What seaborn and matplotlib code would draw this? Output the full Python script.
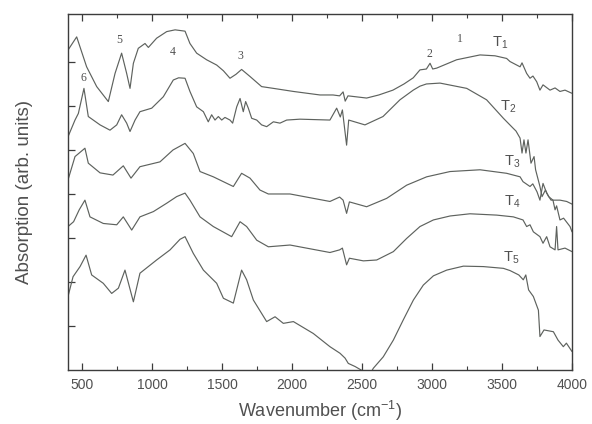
import numpy as np
import pandas as pd
import matplotlib
matplotlib.use("Agg")
import matplotlib.pyplot as plt
import seaborn as sns
from matplotlib.ticker import MultipleLocator, NullFormatter

# ---- data (wavenumber in cm^-1, absorption in arb. units) ----
wn_t1 = [400, 462, 533, 605, 688, 736, 783, 819, 843, 867, 902, 950, 974, 1033, 1105, 1165,
         1236, 1271, 1319, 1390, 1462, 1510, 1557, 1600, 1640, 1700, 1783, 1867, 2010, 2200,
         2293, 2340, 2365, 2380, 2400, 2533, 2620, 2721, 2800, 2866, 2914, 2960, 2986, 3005,
         3033, 3176, 3343, 3450, 3533, 3557, 3629, 3643, 3676, 3700, 3721, 3748, 3771, 3793,
         3843, 3879, 3914, 3950, 3998]
abs_t1 = [7.27, 7.57, 6.89, 6.44, 6.10, 6.74, 7.20, 6.74, 6.40, 6.97, 7.31, 7.42, 7.33, 7.54,
          7.69, 7.73, 7.70, 7.42, 7.20, 7.05, 6.93, 6.80, 6.63, 6.72, 6.83, 6.67, 6.44, 6.40,
          6.33, 6.25, 6.25, 6.23, 6.32, 6.11, 6.23, 6.18, 6.25, 6.36, 6.50, 6.64, 6.82, 6.84,
          6.97, 6.84, 6.86, 7.05, 7.16, 7.14, 7.08, 7.01, 6.89, 6.98, 6.74, 6.63, 6.68, 6.55,
          6.36, 6.48, 6.36, 6.41, 6.33, 6.36, 6.29]

wn_t2 = [400, 450, 474, 514, 545, 629, 700, 748, 783, 819, 843, 879, 914, 998, 1081, 1152,
         1190, 1236, 1271, 1319, 1367, 1402, 1426, 1450, 1474, 1498, 1521, 1557, 1576, 1605,
         1629, 1652, 1669, 1688, 1712, 1748, 1783, 1819, 1867, 1914, 1962, 2057, 2271, 2319,
         2345, 2360, 2390, 2405, 2521, 2650, 2771, 2866, 2914, 2960, 3057, 3248, 3390, 3510,
         3581, 3600, 3629, 3643, 3657, 3671, 3686, 3707, 3729, 3740, 3771, 3786, 3810, 3833,
         3864, 3879, 3890, 3914, 3940, 3986, 4000]
abs_t2 = [5.30, 5.68, 5.83, 6.40, 5.76, 5.57, 5.45, 5.57, 5.80, 5.61, 5.42, 5.68, 5.87, 5.95,
          6.21, 6.59, 6.64, 6.63, 6.33, 5.98, 5.87, 5.64, 5.80, 5.68, 5.76, 5.68, 5.74, 5.68,
          5.61, 5.98, 6.17, 5.87, 6.10, 5.95, 5.72, 5.68, 5.57, 5.53, 5.64, 5.61, 5.68, 5.70,
          5.68, 5.95, 5.75, 5.91, 5.11, 5.68, 5.57, 5.76, 6.14, 6.36, 6.45, 6.50, 6.52, 6.40,
          6.14, 5.72, 5.49, 5.43, 5.27, 4.93, 5.23, 4.93, 5.23, 4.70, 4.85, 4.55, 4.17, 3.94,
          4.09, 3.94, 3.86, 3.64, 3.73, 3.41, 3.45, 3.26, 3.14]

wn_t3 = [400, 450, 521, 545, 629, 721, 795, 850, 914, 1057, 1150, 1236, 1295, 1343, 1438,
         1581, 1640, 1700, 1771, 1831, 1986, 2271, 2340, 2365, 2390, 2410, 2533, 2676, 2819,
         2962, 3129, 3343, 3533, 3629, 3650, 3700, 3720, 3750, 3771, 3793, 3819, 3850, 3914,
         3962, 4000]
abs_t3 = [4.32, 4.85, 5.04, 4.70, 4.48, 4.43, 4.64, 4.36, 4.62, 4.73, 5.00, 5.15, 4.92, 4.51,
          4.39, 4.17, 4.47, 4.36, 4.09, 4.00, 4.00, 3.83, 3.93, 3.86, 3.56, 3.82, 3.71, 3.90,
          4.20, 4.39, 4.51, 4.55, 4.47, 4.39, 4.28, 4.17, 4.23, 4.05, 3.86, 4.24, 4.02, 3.86,
          3.86, 3.83, 3.77]

wn_t4 = [400, 440, 480, 521, 557, 652, 748, 795, 855, 914, 1010, 1105, 1176, 1236, 1271,
         1343, 1438, 1569, 1629, 1676, 1748, 1831, 1986, 2271, 2340, 2360, 2390, 2410, 2510,
         2605, 2724, 2819, 2914, 3010, 3129, 3271, 3462, 3581, 3650, 3676, 3700, 3724, 3771,
         3793, 3819, 3843, 3879, 3890, 3900, 3950, 4000]
abs_t4 = [3.26, 3.37, 3.64, 3.86, 3.48, 3.33, 3.30, 3.48, 3.18, 3.48, 3.60, 3.79, 3.94, 4.02,
          3.86, 3.48, 3.26, 3.03, 3.37, 3.26, 2.95, 2.80, 2.84, 2.67, 2.73, 2.77, 2.39, 2.54,
          2.48, 2.50, 2.69, 2.99, 3.26, 3.41, 3.50, 3.55, 3.52, 3.48, 3.41, 3.26, 3.30, 3.14,
          3.03, 2.88, 3.03, 2.80, 2.73, 3.26, 2.73, 2.77, 2.69]

wn_t5 = [400, 436, 486, 529, 569, 652, 712, 760, 807, 867, 914, 1033, 1129, 1200, 1236, 1295,
         1367, 1462, 1510, 1581, 1640, 1676, 1724, 1819, 1879, 1938, 2010, 2152, 2271, 2343,
         2379, 2402, 2450, 2521, 2560, 2581, 2652, 2724, 2795, 2867, 2938, 3010, 3105, 3224,
         3367, 3510, 3557, 3620, 3652, 3670, 3690, 3724, 3760, 3771, 3800, 3867, 3900, 3938,
         3960, 4000]
abs_t5 = [1.67, 2.12, 2.35, 2.61, 2.16, 1.97, 1.74, 1.86, 2.27, 1.55, 2.20, 2.50, 2.73, 2.97,
          3.03, 2.65, 2.27, 1.97, 1.63, 1.52, 2.27, 2.05, 1.59, 1.10, 1.21, 1.06, 1.10, 0.83,
          0.53, 0.38, 0.27, 0.15, 0.08, -0.05, -0.08, 0.04, 0.30, 0.68, 1.14, 1.59, 1.93, 2.14,
          2.27, 2.36, 2.35, 2.31, 2.26, 2.16, 2.05, 2.16, 1.82, 1.67, 1.36, 0.76, 0.91, 0.87,
          0.68, 0.53, 0.61, 0.42]

sample_names = ["T1", "T2", "T3", "T4", "T5"]
sample_labels = ["T$_1$", "T$_2$", "T$_3$", "T$_4$", "T$_5$"]
sample_label_wn = [3490, 3543, 3571, 3571, 3564]
sample_label_abs = [7.43, 5.98, 4.73, 3.82, 2.55]

band_labels = ["1", "2", "3", "4", "5", "6"]
band_label_wn = [3200, 2979, 1634, 1148, 766, 509]
band_label_abs = [7.52, 7.18, 7.14, 7.23, 7.50, 6.64]

x_ticks = [500, 1000, 1500, 2000, 2500, 3000, 3500, 4000]

# ---- build table ----
frames = []
for name, wn, ab in zip(sample_names,
                        [wn_t1, wn_t2, wn_t3, wn_t4, wn_t5],
                        [abs_t1, abs_t2, abs_t3, abs_t4, abs_t5]):
    frames.append(pd.DataFrame({"wavenumber": wn, "absorption": ab, "sample": name}))
df = pd.concat(frames, ignore_index=True)

# ---- style ----
sns.set_style("white")
plt.rcParams["font.family"] = ["Liberation Sans", "DejaVu Sans"]
plt.rcParams["mathtext.fontset"] = "custom"
plt.rcParams["mathtext.rm"] = "Liberation Sans"
plt.rcParams["mathtext.it"] = "Liberation Sans:italic"

line_color = "#5e625e"
text_color = "#505050"
spine_color = "#3c3c3c"

fig = plt.figure(figsize=(5.92, 4.24), dpi=100)
ax = fig.add_axes([68 / 592, 1 - 370 / 424, (572 - 68) / 592, (370 - 14) / 424])

sns.lineplot(data=df, x="wavenumber", y="absorption", hue="sample",
             palette={n: line_color for n in sample_names},
             estimator=None, sort=False, legend=False, linewidth=0.85, ax=ax)

ax.set_xlim(400, 4000)
ax.set_ylim(0, 8.09)

ax.set_xticks(x_ticks)
ax.set_xticklabels([str(t) for t in x_ticks])
ax.xaxis.set_minor_locator(MultipleLocator(250))
ax.set_yticks([1, 2, 3, 4, 5, 6, 7])
ax.yaxis.set_major_formatter(NullFormatter())

ax.tick_params(axis="x", which="major", direction="in", length=5, width=0.9,
               top=True, bottom=True, colors=spine_color, labelcolor=text_color,
               labelsize=10, pad=6)
ax.tick_params(axis="x", which="minor", direction="in", length=3, width=0.8,
               top=True, bottom=True, colors=spine_color)
ax.tick_params(axis="y", which="major", direction="in", length=5, width=0.9,
               left=True, right=False, colors=spine_color)

for s in ax.spines.values():
    s.set_color(spine_color)
    s.set_linewidth(1.0)
    s.set_visible(True)

ax.set_xlabel("Wavenumber (cm$^{-1}$)", fontsize=13, color=text_color, labelpad=5)
ax.set_ylabel("Absorption (arb. units)", fontsize=13.5, color=text_color, labelpad=22)

for lab, x, y in zip(sample_labels, sample_label_wn, sample_label_abs):
    ax.text(x, y, lab, fontsize=10.5, color=text_color, ha="center", va="center")
for lab, x, y in zip(band_labels, band_label_wn, band_label_abs):
    ax.text(x, y, lab, fontsize=8.5, color=text_color, ha="center", va="center",
            family=["Liberation Serif", "DejaVu Serif"])

fig.savefig("out.png", dpi=100, facecolor="white")
